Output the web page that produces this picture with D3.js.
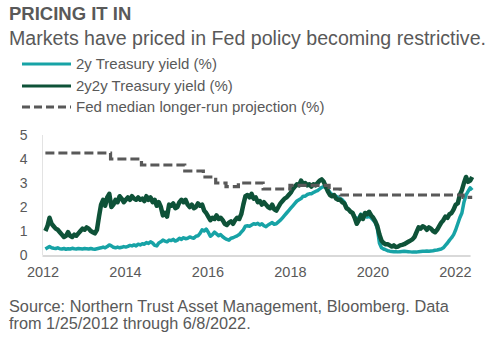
<!DOCTYPE html>
<html><head><meta charset="utf-8">
<script src="https://cdn.jsdelivr.net/npm/d3@7"></script>
<style>
html,body{margin:0;padding:0;background:#fff;}
svg{display:block;font-family:"Liberation Sans",Arial,sans-serif;}
</style></head>
<body>
<svg id="chart" width="500" height="343"></svg>
<script>
// ---- data ----
const title = "PRICING IT IN";
const subtitle = "Markets have priced in Fed policy becoming restrictive.";
const sourceLines = ["Source: Northern Trust Asset Management, Bloomberg. Data", "from 1/25/2012 through 6/8/2022."];
const seriesNames = ["2y Treasury yield (%)", "2y2y Treasury yield (%)", "Fed median longer-run projection (%)"];
const yTicks = [0, 1, 2, 3, 4, 5];
const xTicks = [2012, 2014, 2016, 2018, 2020, 2022];

// sample dates: every 0.05 yr from 2012.07 to 2022.42
const startYear = 2012.07, stepYear = 0.05;

const twoYear = [
  0.25,0.3,0.35,0.3,0.28,0.27,0.3,0.26,0.25,0.27,0.24,0.26,0.25,0.28,0.26,0.25,0.27,0.26,0.25,0.27,
  0.26,0.25,0.27,0.25,0.24,0.26,0.28,0.3,0.33,0.3,0.35,0.42,0.38,0.32,0.3,0.33,0.3,0.32,0.35,0.33,
  0.36,0.4,0.38,0.42,0.38,0.45,0.42,0.47,0.45,0.52,0.48,0.55,0.5,0.4,0.38,0.5,0.55,0.62,0.58,0.55,
  0.62,0.6,0.65,0.58,0.62,0.7,0.65,0.72,0.68,0.7,0.75,0.72,0.7,0.78,0.8,0.9,1.05,1.0,1.08,0.95,
  0.78,0.85,0.95,0.88,0.8,0.85,0.76,0.7,0.65,0.62,0.7,0.72,0.76,0.8,0.85,0.95,1.05,1.2,1.22,1.2,
  1.25,1.3,1.28,1.32,1.25,1.3,1.22,1.18,1.25,1.3,1.35,1.28,1.3,1.38,1.45,1.55,1.65,1.75,1.85,1.95,
  2.05,2.15,2.25,2.3,2.35,2.45,2.45,2.52,2.55,2.55,2.6,2.65,2.68,2.75,2.82,2.85,2.8,2.75,2.6,2.52,
  2.5,2.45,2.4,2.35,2.3,2.2,2.0,1.9,1.8,1.75,1.6,1.5,1.55,1.7,1.6,1.62,1.58,1.6,1.55,1.45,
  1.35,1.1,0.5,0.3,0.25,0.22,0.18,0.16,0.15,0.14,0.14,0.13,0.14,0.15,0.16,0.15,0.14,0.13,0.12,0.12,
  0.12,0.14,0.15,0.16,0.16,0.17,0.16,0.17,0.18,0.2,0.21,0.23,0.25,0.3,0.4,0.5,0.62,0.72,0.85,1.05,
  1.3,1.55,1.75,2.2,2.5,2.65,2.8,2.7
];

const twoYearTwoYear = [
  1.0,1.2,1.55,1.3,1.2,1.1,1.05,0.95,0.85,0.75,0.8,0.95,0.8,0.75,0.85,0.8,0.9,1.0,1.1,1.05,
  1.15,1.1,1.0,0.95,0.9,1.05,1.6,2.1,2.3,2.05,2.4,2.55,2.0,2.1,2.3,2.2,2.45,2.35,2.2,2.3,
  2.4,2.3,2.45,2.35,2.3,2.4,2.3,2.35,2.25,2.45,2.3,2.4,2.2,2.3,2.05,2.2,2.0,1.65,1.75,1.6,
  2.1,2.05,2.15,1.95,2.0,2.2,2.3,2.2,2.3,2.1,2.0,2.1,1.95,2.0,2.15,2.05,2.1,1.85,1.75,1.6,
  1.45,1.55,1.5,1.65,1.5,1.55,1.45,1.3,1.25,1.35,1.4,1.3,1.45,1.55,1.5,1.7,2.1,2.45,2.5,2.4,
  2.55,2.35,2.4,2.2,2.25,2.1,2.2,2.1,2.0,1.95,2.1,1.9,1.85,2.0,2.15,2.25,2.35,2.4,2.5,2.6,
  2.75,2.85,2.95,2.9,3.1,2.95,3.0,2.9,2.95,2.85,2.95,2.9,3.0,3.1,3.15,3.05,2.85,2.65,2.5,2.45,
  2.5,2.35,2.3,2.3,2.2,2.15,1.95,1.9,1.8,1.75,1.55,1.3,1.45,1.65,1.5,1.75,1.7,1.8,1.65,1.55,
  1.4,1.2,0.85,0.6,0.5,0.45,0.45,0.4,0.35,0.4,0.33,0.35,0.4,0.42,0.45,0.5,0.55,0.6,0.65,0.75,
  0.95,1.15,1.1,1.2,1.15,1.05,1.15,1.1,1.0,0.95,1.05,1.2,1.35,1.45,1.6,1.55,1.7,1.75,1.9,2.1,
  2.15,2.5,2.7,3.0,3.25,3.05,3.1,3.25
];

// Fed longer-run projection: step change dates and levels
const fedDates  = [2012.07, 2013.65, 2014.4, 2015.45, 2015.9, 2016.2, 2016.45, 2016.75, 2017.35, 2018.0, 2018.95, 2019.22, 2022.2, 2022.42];
const fedValues = [4.25,    4.0,     3.75,   3.5,     3.25,   3.0,    2.85,    3.0,     2.75,    2.9,    2.75,    2.5,     2.4,    2.4];

// ---- drawing ----
const colors = ["#17a3a6", "#0e5238", "#595959"];
const textColor = "#595959";
const svg = d3.select("#chart");

const x = d3.scaleLinear().domain([2012, 2022.5]).range([42.5, 475.5]);
const y = d3.scaleLinear().domain([0, 5]).range([255, 135]);

const dates = twoYear.map((_, i) => +(startYear + i * stepYear).toFixed(2));

svg.append("text").attr("x", 9).attr("y", 20)
  .attr("font-size", 18.5).attr("font-weight", "bold").attr("fill", textColor).text(title);
svg.append("text").attr("x", 9).attr("y", 45)
  .attr("font-size", 19.6).attr("fill", textColor).text(subtitle);

// legend
const legendY = [64, 86, 107];
seriesNames.forEach((name, i) => {
  const g = svg.append("g");
  g.append("line").attr("x1", 22).attr("x2", 71).attr("y1", legendY[i]).attr("y2", legendY[i])
    .attr("stroke", colors[i]).attr("stroke-width", 3)
    .attr("stroke-dasharray", i === 2 ? "8,4" : null);
  g.append("text").attr("x", 76).attr("y", legendY[i] + 5)
    .attr("font-size", 15).attr("fill", textColor).text(name);
});

// axes
svg.append("line").attr("x1", x(2012)).attr("x2", x(2012)).attr("y1", y(5)).attr("y2", y(0))
  .attr("stroke", "#e3e3e3").attr("stroke-width", 1);
svg.append("line").attr("x1", x(2012)).attr("x2", x(2022.38)).attr("y1", y(0) + 1).attr("y2", y(0) + 1)
  .attr("stroke", "#d9d9d9").attr("stroke-width", 2);

const yAxis = svg.append("g").attr("transform", `translate(${x(2012) - 12},0)`)
  .call(d3.axisLeft(y).tickValues(yTicks).tickSize(0).tickFormat(d3.format("d")));
yAxis.select(".domain").remove();
yAxis.selectAll("text").attr("font-size", 14).attr("fill", textColor)
  .attr("font-family", "Liberation Sans, Arial, sans-serif").attr("dx", 0);

const xAxis = svg.append("g").attr("transform", `translate(0,${y(0) + 9})`)
  .call(d3.axisBottom(x).tickValues(xTicks).tickSize(0).tickFormat(d3.format("d")));
xAxis.select(".domain").remove();
xAxis.selectAll("text").attr("font-size", 14.5).attr("fill", textColor)
  .attr("font-family", "Liberation Sans, Arial, sans-serif");

// lines
const line = d3.line().x(d => x(d[0])).y(d => y(d[1])).curve(d3.curveLinear);
svg.append("path").datum(dates.map((d, i) => [d, twoYear[i]]))
  .attr("d", line).attr("fill", "none").attr("stroke", colors[0])
  .attr("stroke-width", 3.5).attr("stroke-linejoin", "round");
svg.append("path").datum(dates.map((d, i) => [d, twoYearTwoYear[i]]))
  .attr("d", line).attr("fill", "none").attr("stroke", colors[1])
  .attr("stroke-width", 4.5).attr("stroke-linejoin", "round");
const stepLine = d3.line().x(d => x(d[0])).y(d => y(d[1])).curve(d3.curveStepAfter);
svg.append("path").datum(fedDates.map((d, i) => [d, fedValues[i]]))
  .attr("d", stepLine).attr("fill", "none").attr("stroke", colors[2])
  .attr("stroke-width", 3.2).attr("stroke-dasharray", "9,4");

// source
sourceLines.forEach((t, i) => {
  svg.append("text").attr("x", 9).attr("y", 312 + i * 17)
    .attr("font-size", 16.3).attr("fill", textColor).text(t);
});
</script>
</body></html>
